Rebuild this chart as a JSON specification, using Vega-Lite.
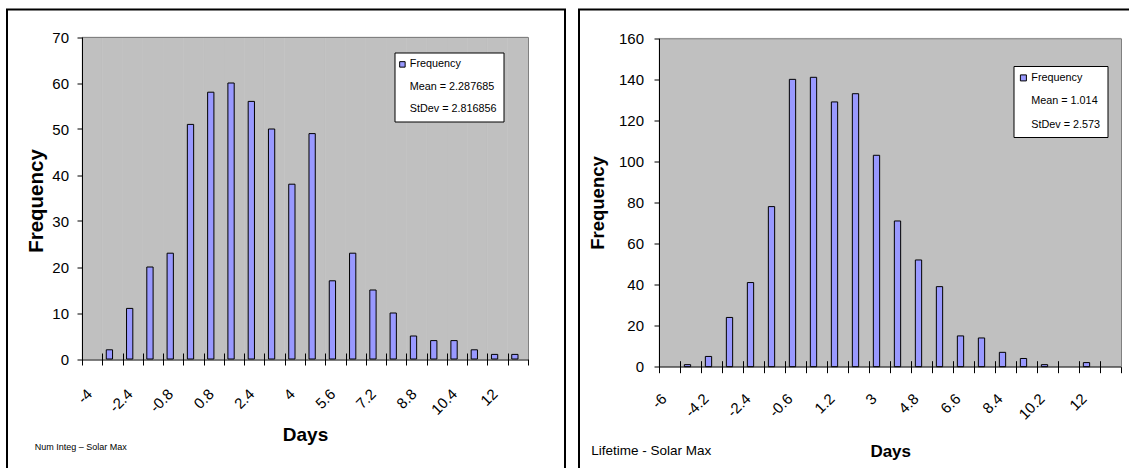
{
  "$schema": "https://vega.github.io/schema/vega-lite/v6.json",
  "background": "white",
  "padding": {"left": 1, "top": 8.5, "right": -3.5, "bottom": -3.5},
  "spacing": 7,
  "datasets": {
    "numInteg": [
      {"days": "-4", "count": 0, "series": "Frequency"},
      {"days": "-3.2", "count": 2, "series": "Frequency"},
      {"days": "-2.4", "count": 11, "series": "Frequency"},
      {"days": "-1.6", "count": 20, "series": "Frequency"},
      {"days": "-0.8", "count": 23, "series": "Frequency"},
      {"days": "0", "count": 51, "series": "Frequency"},
      {"days": "0.8", "count": 58, "series": "Frequency"},
      {"days": "1.6", "count": 60, "series": "Frequency"},
      {"days": "2.4", "count": 56, "series": "Frequency"},
      {"days": "3.2", "count": 50, "series": "Frequency"},
      {"days": "4", "count": 38, "series": "Frequency"},
      {"days": "4.8", "count": 49, "series": "Frequency"},
      {"days": "5.6", "count": 17, "series": "Frequency"},
      {"days": "6.4", "count": 23, "series": "Frequency"},
      {"days": "7.2", "count": 15, "series": "Frequency"},
      {"days": "8", "count": 10, "series": "Frequency"},
      {"days": "8.8", "count": 5, "series": "Frequency"},
      {"days": "9.6", "count": 4, "series": "Frequency"},
      {"days": "10.4", "count": 4, "series": "Frequency"},
      {"days": "11.2", "count": 2, "series": "Frequency"},
      {"days": "12", "count": 1, "series": "Frequency"},
      {"days": "12.8", "count": 1, "series": "Frequency"}
    ],
    "lifetime": [
      {"days": "-6", "count": 0, "series": "Frequency"},
      {"days": "-5.1", "count": 1, "series": "Frequency"},
      {"days": "-4.2", "count": 5, "series": "Frequency"},
      {"days": "-3.3", "count": 24, "series": "Frequency"},
      {"days": "-2.4", "count": 41, "series": "Frequency"},
      {"days": "-1.5", "count": 78, "series": "Frequency"},
      {"days": "-0.6", "count": 140, "series": "Frequency"},
      {"days": "0.3", "count": 141, "series": "Frequency"},
      {"days": "1.2", "count": 129, "series": "Frequency"},
      {"days": "2.1", "count": 133, "series": "Frequency"},
      {"days": "3", "count": 103, "series": "Frequency"},
      {"days": "3.9", "count": 71, "series": "Frequency"},
      {"days": "4.8", "count": 52, "series": "Frequency"},
      {"days": "5.7", "count": 39, "series": "Frequency"},
      {"days": "6.6", "count": 15, "series": "Frequency"},
      {"days": "7.5", "count": 14, "series": "Frequency"},
      {"days": "8.4", "count": 7, "series": "Frequency"},
      {"days": "9.3", "count": 4, "series": "Frequency"},
      {"days": "10.2", "count": 1, "series": "Frequency"},
      {"days": "11.1", "count": 0, "series": "Frequency"},
      {"days": "12", "count": 2, "series": "Frequency"},
      {"days": "12.9", "count": 0, "series": "Frequency"}
    ]
  },
  "resolve": {
    "scale": {"color": "independent", "stroke": "independent", "x": "independent", "y": "independent"},
    "legend": {"color": "independent", "stroke": "independent"}
  },
  "hconcat": [
    {
      "width": 558,
      "height": 462,
      "data": {"name": "numInteg"},
      "title": {
        "text": "Num Integ – Solar Max",
        "orient": "bottom", "anchor": "start", "frame": "group",
        "offset": 0, "dx": 27.8, "dy": -21.5, "baseline": "alphabetic",
        "font": "Liberation Sans", "fontSize": 9, "fontWeight": "normal", "color": "black"
      },
      "resolve": {"axis": {"x": "independent", "y": "independent"}},
      "layer": [
        {
          "mark": {"type": "bar", "width": {"band": 1}, "color": "#c0c0c0", "stroke": "#c0c0c0", "strokeWidth": 0.6},
          "encoding": {
            "x": {
              "field": "days", "type": "ordinal", "sort": null,
              "scale": {
                "domain": ["-4", "-3.2", "-2.4", "-1.6", "-0.8", "0", "0.8", "1.6", "2.4", "3.2", "4", "4.8", "5.6", "6.4", "7.2", "8", "8.8", "9.6", "10.4", "11.2", "12", "12.8"],
                "range": [75, 521], "paddingInner": 0, "paddingOuter": 0
              },
              "axis": {"orient": "top", "offset": -27.5, "labels": false, "ticks": false, "title": null, "grid": false, "domainColor": "#808080", "domainWidth": 1, "zindex": 1}
            },
            "y": {
              "datum": 70, "type": "quantitative",
              "scale": {"domain": [0, 70], "range": [349.5, 27.5], "nice": false, "zero": true},
              "axis": {"orient": "right", "offset": -37, "labels": false, "ticks": false, "title": null, "grid": false, "domainColor": "#808080", "domainWidth": 1, "zindex": 1}
            }
          }
        },
        {
          "transform": [{"filter": "datum.count > 0"}],
          "mark": {"type": "bar", "width": {"band": 0.31}, "xOffset": -3, "strokeWidth": 1},
          "encoding": {
            "x": {
              "field": "days", "type": "ordinal", "sort": null,
              "scale": {
                "domain": ["-4", "-3.2", "-2.4", "-1.6", "-0.8", "0", "0.8", "1.6", "2.4", "3.2", "4", "4.8", "5.6", "6.4", "7.2", "8", "8.8", "9.6", "10.4", "11.2", "12", "12.8"],
                "range": [75, 521], "paddingInner": 0, "paddingOuter": 0
              },
              "axis": {
                "orient": "bottom", "title": "Days", "offset": -118.5, "tickBand": "extent", "domain": false,
                "tickSize": 12, "tickColor": "black", "tickWidth": 1,
                "labelAngle": -45, "labelAlign": "right", "labelBaseline": "middle", "labelPadding": 26, "labelOffset": -3,
                "labelOverlap": false,
                "labelExpr": "indexof(['-4','-2.4','-0.8','0.8','2.4','4','5.6','7.2','8.8','10.4','12'], datum.label) >= 0 ? datum.label : ''",
                "labelFont": "Liberation Sans", "labelFontSize": 15, "labelColor": "black",
                "grid": false,
                "titleFont": "Liberation Sans", "titleFontSize": 19, "titleFontWeight": "bold", "titleColor": "black",
                "titleX": 298, "titleY": 87, "titleAlign": "center", "titleBaseline": "alphabetic",
                "zindex": 1
              }
            },
            "y": {
              "field": "count", "type": "quantitative",
              "scale": {"domain": [0, 70], "range": [349.5, 27.5], "nice": false, "zero": true},
              "axis": {
                "orient": "left", "title": "Frequency", "values": [0, 10, 20, 30, 40, 50, 60, 70], "offset": -75,
                "domainColor": "black", "domainWidth": 1,
                "tickColor": "black", "tickSize": 5, "tickWidth": 1,
                "labelFont": "Liberation Sans", "labelFontSize": 15, "labelColor": "black", "labelPadding": 8.5,
                "grid": true, "gridWidth": 1,
                "gridColor": {"condition": {"test": "datum.value === 0", "value": "black"}, "value": "transparent"},
                "titleFont": "Liberation Sans", "titleFontSize": 20.5, "titleFontWeight": "bold", "titleColor": "black",
                "titleAngle": 270, "titleAlign": "center", "titleBaseline": "middle",
                "titleX": -46, "titleY": 191,
                "zindex": 1
              }
            },
            "color": {
              "field": "series", "type": "nominal",
              "scale": {"domain": ["Frequency", "Mean = 2.287685", "StDev = 2.816856"], "range": ["#9999ff", "transparent", "transparent"]},
              "legend": {
                "orient": "none", "legendX": 387.5, "legendY": 43, "title": null,
                "symbolType": "square", "symbolSize": 30, "symbolStrokeWidth": 1, "symbolOffset": -4,
                "labelOffset": 2, "labelFont": "Liberation Sans", "labelFontSize": 10.8, "labelColor": "black",
                "rowPadding": 10.5, "padding": 6.5, "fillColor": "white", "strokeColor": "black"
              }
            },
            "stroke": {
              "field": "series", "type": "nominal",
              "scale": {"domain": ["Frequency", "Mean = 2.287685", "StDev = 2.816856"], "range": ["#000000", "transparent", "transparent"]},
              "legend": {
                "orient": "none", "legendX": 387.5, "legendY": 43, "title": null,
                "symbolType": "square", "symbolSize": 30, "symbolStrokeWidth": 1, "symbolOffset": -4,
                "labelOffset": 2, "labelFont": "Liberation Sans", "labelFontSize": 10.8, "labelColor": "black",
                "rowPadding": 10.5, "padding": 6.5, "fillColor": "white", "strokeColor": "black"
              }
            }
          }
        }
      ]
    },
    {
      "width": 553,
      "height": 462,
      "data": {"name": "lifetime"},
      "title": {
        "text": "Lifetime - Solar Max",
        "orient": "bottom", "anchor": "start", "frame": "group",
        "offset": 0, "dx": 12.2, "dy": -16.5, "baseline": "alphabetic",
        "font": "Liberation Sans", "fontSize": 13.5, "fontWeight": "normal", "color": "black"
      },
      "resolve": {"axis": {"x": "independent", "y": "independent"}},
      "layer": [
        {
          "mark": {"type": "bar", "width": {"band": 1}, "color": "#c0c0c0", "stroke": "#c0c0c0", "strokeWidth": 0.6},
          "encoding": {
            "x": {
              "field": "days", "type": "ordinal", "sort": null,
              "scale": {
                "domain": ["-6", "-5.1", "-4.2", "-3.3", "-2.4", "-1.5", "-0.6", "0.3", "1.2", "2.1", "3", "3.9", "4.8", "5.7", "6.6", "7.5", "8.4", "9.3", "10.2", "11.1", "12", "12.9"],
                "range": [80, 542], "paddingInner": 0, "paddingOuter": 0
              },
              "axis": {"orient": "top", "offset": -28.8, "labels": false, "ticks": false, "title": null, "grid": false, "domainColor": "#808080", "domainWidth": 1, "zindex": 1}
            },
            "y": {
              "datum": 160, "type": "quantitative",
              "scale": {"domain": [0, 160], "range": [357.2, 28.8], "nice": false, "zero": true},
              "axis": {"orient": "right", "offset": -11, "labels": false, "ticks": false, "title": null, "grid": false, "domainColor": "#808080", "domainWidth": 1, "zindex": 1}
            }
          }
        },
        {
          "transform": [{"filter": "datum.count > 0"}],
          "mark": {"type": "bar", "width": {"band": 0.3}, "xOffset": -3, "strokeWidth": 1},
          "encoding": {
            "x": {
              "field": "days", "type": "ordinal", "sort": null,
              "scale": {
                "domain": ["-6", "-5.1", "-4.2", "-3.3", "-2.4", "-1.5", "-0.6", "0.3", "1.2", "2.1", "3", "3.9", "4.8", "5.7", "6.6", "7.5", "8.4", "9.3", "10.2", "11.1", "12", "12.9"],
                "range": [80, 542], "paddingInner": 0, "paddingOuter": 0
              },
              "axis": {
                "orient": "bottom", "title": "Days", "offset": -110.8, "tickBand": "extent", "domain": false,
                "tickSize": 12, "tickColor": "black", "tickWidth": 1,
                "labelAngle": -45, "labelAlign": "right", "labelBaseline": "middle", "labelPadding": 23, "labelOffset": -6,
                "labelOverlap": false,
                "labelExpr": "indexof(['-6','-4.2','-2.4','-0.6','1.2','3','4.8','6.6','8.4','10.2','12'], datum.label) >= 0 ? datum.label : ''",
                "labelFont": "Liberation Sans", "labelFontSize": 15, "labelColor": "black",
                "grid": false,
                "titleFont": "Liberation Sans", "titleFontSize": 17, "titleFontWeight": "bold", "titleColor": "black",
                "titleX": 311.2, "titleY": 95.3, "titleAlign": "center", "titleBaseline": "alphabetic",
                "zindex": 1
              }
            },
            "y": {
              "field": "count", "type": "quantitative",
              "scale": {"domain": [0, 160], "range": [357.2, 28.8], "nice": false, "zero": true},
              "axis": {
                "orient": "left", "title": "Frequency", "values": [0, 20, 40, 60, 80, 100, 120, 140, 160], "offset": -80,
                "domainColor": "black", "domainWidth": 1,
                "tickColor": "black", "tickSize": 5, "tickWidth": 1,
                "labelFont": "Liberation Sans", "labelFontSize": 15, "labelColor": "black", "labelPadding": 10.5,
                "grid": true, "gridWidth": 1,
                "gridColor": {"condition": {"test": "datum.value === 0", "value": "black"}, "value": "transparent"},
                "titleFont": "Liberation Sans", "titleFontSize": 18.5, "titleFontWeight": "bold", "titleColor": "black",
                "titleAngle": 270, "titleAlign": "center", "titleBaseline": "middle",
                "titleX": -62, "titleY": 193,
                "zindex": 1
              }
            },
            "color": {
              "field": "series", "type": "nominal",
              "scale": {"domain": ["Frequency", "Mean = 1.014", "StDev = 2.573"], "range": ["#9999ff", "transparent", "transparent"]},
              "legend": {
                "orient": "none", "legendX": 434.5, "legendY": 56.5, "title": null,
                "symbolType": "square", "symbolSize": 36, "symbolStrokeWidth": 1, "symbolOffset": -2,
                "labelOffset": 2.5, "labelFont": "Liberation Sans", "labelFontSize": 10.8, "labelColor": "black",
                "rowPadding": 11.5, "padding": 6.5, "fillColor": "white", "strokeColor": "black"
              }
            },
            "stroke": {
              "field": "series", "type": "nominal",
              "scale": {"domain": ["Frequency", "Mean = 1.014", "StDev = 2.573"], "range": ["#000000", "transparent", "transparent"]},
              "legend": {
                "orient": "none", "legendX": 434.5, "legendY": 56.5, "title": null,
                "symbolType": "square", "symbolSize": 36, "symbolStrokeWidth": 1, "symbolOffset": -2,
                "labelOffset": 2.5, "labelFont": "Liberation Sans", "labelFontSize": 10.8, "labelColor": "black",
                "rowPadding": 11.5, "padding": 6.5, "fillColor": "white", "strokeColor": "black"
              }
            }
          }
        }
      ]
    }
  ],
  "config": {
    "view": {"stroke": "black", "strokeWidth": 2, "fill": "white"},
    "font": "Liberation Sans"
  }
}
